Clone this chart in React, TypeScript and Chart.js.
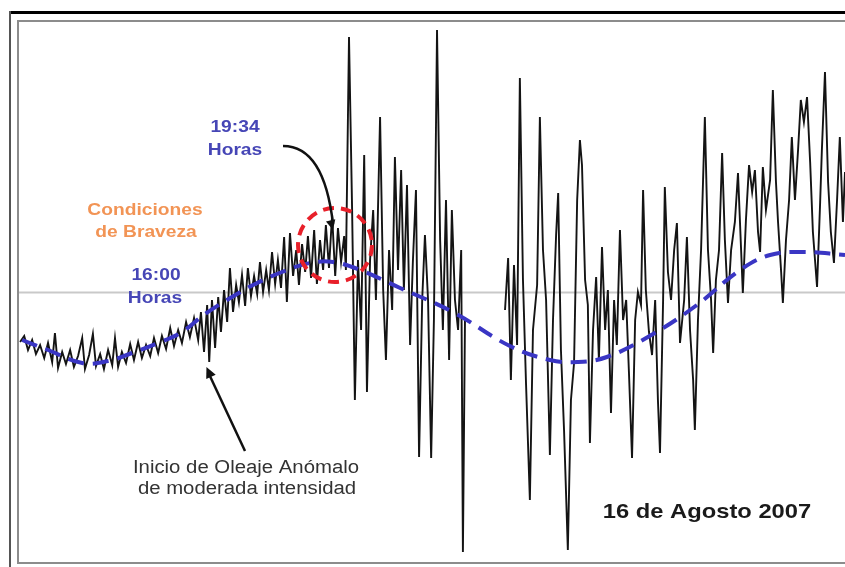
import React, { useEffect, useRef } from 'react';
import { Chart, registerables } from 'chart.js';

Chart.register(...registerables);

// Tide-gauge record, 16 August 2007 (time in decimal hours, level in cm)
const obsTimes = [
  10.50, 10.62, 10.73, 10.85, 10.96, 11.08, 11.20, 11.31, 11.43, 11.51, 11.60, 11.72, 11.83, 11.95,
  12.06, 12.18, 12.30, 12.38, 12.50, 12.61, 12.70, 12.82, 12.93, 13.05, 13.17, 13.25, 13.34, 13.45,
  13.57, 13.69, 13.80, 13.92, 14.03, 14.15, 14.27, 14.38, 14.50, 14.61, 14.73, 14.85, 14.96, 15.08,
  15.19, 15.31, 15.42, 15.54, 15.66, 15.74, 15.83, 15.92, 15.98, 16.06, 16.15, 16.24, 16.32, 16.41,
  16.50, 16.58, 16.67, 16.76, 16.84, 16.93, 17.02, 17.10, 17.19, 17.28, 17.37, 17.45, 17.54, 17.63,
  17.71, 17.80, 17.89, 17.97, 18.06, 18.15, 18.23, 18.32, 18.41, 18.50, 18.58, 18.67, 18.76, 18.84,
  18.93, 19.02, 19.10, 19.19, 19.28, 19.36, 19.45, 19.54, 19.63, 19.71, 19.80, 19.89, 19.94, 20.03,
  20.12, 20.20, 20.29, 20.38, 20.47, 20.55, 20.64, 20.73, 20.81, 20.93, 21.02, 21.10, 21.19, 21.28,
  21.36, 21.45, 21.54, 21.62, 21.71, 21.80, 21.88, 21.97, 22.06, 22.15, 22.23, 22.32, 22.41, 22.49,
  22.58, 22.67, 22.75, 22.84, 22.93, 23.01, 23.10, 23.19, 23.28, 23.33, 23.39, 23.90,
  24.55, 24.64, 24.72, 24.81, 24.90, 24.98, 25.07, 25.16, 25.27, 25.36, 25.48, 25.56, 25.65, 25.74,
  25.85, 25.94, 26.03, 26.09, 26.17, 26.26, 26.37, 26.46, 26.55, 26.64, 26.72, 26.78, 26.87, 26.95,
  27.01, 27.10, 27.19, 27.27, 27.36, 27.45, 27.53, 27.62, 27.71, 27.79, 27.88, 27.97, 28.06, 28.14,
  28.23, 28.32, 28.40, 28.49, 28.55, 28.63, 28.72, 28.81, 28.90, 28.98, 29.04, 29.13, 29.18, 29.27,
  29.36, 29.45, 29.53, 29.62, 29.74, 29.82, 29.91, 30.00, 30.05, 30.14, 30.23, 30.34, 30.43, 30.52,
  30.58, 30.66, 30.75, 30.84, 30.92, 31.01, 31.10, 31.21, 31.30, 31.39, 31.44, 31.53, 31.62, 31.71,
  31.79, 31.88, 31.94, 32.02, 32.11, 32.23, 32.31, 32.40, 32.46, 32.55, 32.60, 32.69, 32.78, 32.86,
  32.95, 33.04, 33.12, 33.21, 33.30, 33.39, 33.47, 33.59, 33.68, 33.73, 33.82, 33.91, 33.99, 34.08,
  34.17, 34.25, 34.34, 34.40,
];

const obsLevels = [
  -19.8, -17.4, -23.0, -19.0, -24.6, -21.0, -26.2, -20.2, -27.8, -16.2, -30.2, -23.8, -28.6, -23.0,
  -29.8, -25.4, -18.2, -30.6, -25.0, -16.6, -29.4, -24.6, -30.6, -23.0, -29.0, -18.2, -29.8, -23.8,
  -28.2, -20.6, -27.0, -19.8, -26.2, -21.0, -25.4, -18.2, -24.2, -17.4, -22.6, -14.2, -21.4, -15.0,
  -20.2, -11.8, -17.8, -10.2, -19.0, -7.8, -23.8, -5.0, -27.8, -3.0, -22.2, -1.8, -15.8, 1.0,
  -11.8, 9.8, -7.8, 3.0, -3.8, 7.0, -5.4, 9.8, -1.4, 6.6, -0.6, 12.2, 0.2, 9.0,
  1.0, 16.2, 3.4, 13.0, 1.8, 22.2, -3.8, 23.8, 6.6, 17.0, 3.0, 19.4, 8.2, 22.6,
  5.8, 25.0, 3.4, 21.0, 9.0, 27.0, 9.8, 31.0, 6.6, 25.8, 12.2, 22.6, 9.0, 102.2,
  33.0, -43.0, 13.0, -15.0, 55.0, -39.8, 13.0, 33.0, -3.0, 70.2, 1.0, -27.0, 17.0, -7.0,
  54.2, 9.0, 49.0, 1.0, 43.0, -21.0, 12.2, 41.0, -65.8, -3.0, 23.0, -3.0, -66.2, -11.0,
  105.0, 21.0, -15.0, 37.0, -27.0, 33.0, -3.0, -15.0, 17.0, -103.8, -11.0, null,
  -7.0, 13.8, -35.0, 11.0, -21.0, 85.8, 5.0, -37.0, -83.0, -15.0, 3.0, 70.2, 17.0, -3.0,
  -65.0, -11.0, 23.0, 39.8, -23.0, -55.0, -103.0, -43.0, -28.2, 37.0, 61.0, 51.0, 5.0, -5.0,
  -60.2, -15.0, 6.2, -27.0, 18.2, -15.0, 1.0, -48.2, -3.0, -21.0, 25.0, -11.0, -3.0, -31.8,
  -66.2, -11.0, 0.2, -5.0, 41.0, 1.0, -15.8, -25.0, -3.0, -43.0, -64.2, -3.0, 42.2, 8.2,
  -3.0, 17.0, 27.8, -20.2, -3.0, 22.2, -15.0, -35.0, -55.0, -11.0, 17.0, 70.2, 17.0, -3.0,
  -24.2, 5.0, 17.0, 55.8, 21.0, -4.2, 17.0, 28.2, 47.8, 17.0, -0.2, 29.0, 51.0, 40.2,
  49.0, 24.2, 16.2, 50.2, 33.0, 45.0, 81.0, 44.2, 28.2, 8.2, -4.2, 21.0, 37.0, 62.2,
  37.0, 57.0, 77.0, 68.2, 78.2, 52.2, 24.2, 2.2, 36.2, 57.0, 88.2, 44.2, 24.2, 11.8,
  37.0, 62.2, 28.2, 48.2,
];

// Astronomical tide (predicted)
const predTimes = [
  10.56, 11.31, 12.30, 13.05, 13.74, 14.50, 15.19, 15.86, 16.64, 17.31, 18.09, 18.90, 19.57,
  20.35, 21.51, 23.04, 24.69, 25.85, 26.64, 27.50, 28.84, 30.11, 31.36, 32.23, 33.18, 34.40,
];
const predLevels = [
  -19.0, -23.0, -28.2, -27.4, -24.2, -20.2, -15.8, -8.6, -1.8, 3.4, 8.2, 11.8, 12.2,
  9.0, 1.8, -7.8, -21.4, -27.0, -27.8, -25.8, -16.6, -5.0, 9.0, 15.0, 16.2, 15.0,
];

const meanLevel = 0;
const timeRange = [10.44, 34.4];
const levelRange = [-108.2, 108.6];
const eventTime = 19 + 34 / 60; // 19:34
const eventLevel = 19;
const onsetTime = 15.9;
const onsetLevel = -29;

const FONT = '"Liberation Sans", Arial, sans-serif';

function drawLabel(
  ctx: CanvasRenderingContext2D,
  text: string,
  x: number,
  y: number,
  font: string,
  color: string,
  sx = 1.13
) {
  ctx.save();
  ctx.translate(x, y);
  ctx.scale(sx, 1);
  ctx.font = font;
  ctx.fillStyle = color;
  ctx.textAlign = 'center';
  ctx.textBaseline = 'alphabetic';
  ctx.fillText(text, 0, 0);
  ctx.restore();
}

function arrowHead(ctx: CanvasRenderingContext2D, tx: number, ty: number, fx: number, fy: number, size: number) {
  const a = Math.atan2(ty - fy, tx - fx);
  ctx.beginPath();
  ctx.moveTo(tx, ty);
  ctx.lineTo(tx - size * Math.cos(a - 0.45), ty - size * Math.sin(a - 0.45));
  ctx.lineTo(tx - size * Math.cos(a + 0.45), ty - size * Math.sin(a + 0.45));
  ctx.closePath();
  ctx.fill();
}

const annotationsPlugin = {
  id: 'annotations',
  afterDatasetsDraw(chart: Chart) {
    const { ctx } = chart;
    const xs = chart.scales.x;
    const ys = chart.scales.y;

    // red dashed circle at 19:34
    const cx = xs.getPixelForValue(eventTime) + 2;
    const cy = ys.getPixelForValue(eventLevel);
    ctx.save();
    ctx.strokeStyle = '#e8202a';
    ctx.lineWidth = 4;
    ctx.setLineDash([11, 7]);
    ctx.beginPath();
    ctx.arc(cx, cy, 37, 0, Math.PI * 2);
    ctx.stroke();
    ctx.restore();

    // curved arrow from "19:34 Horas" to the circle
    ctx.save();
    ctx.strokeStyle = '#111';
    ctx.fillStyle = '#111';
    ctx.lineWidth = 2.5;
    const ex = cx - 2;
    const ey = cy - 15;
    ctx.beginPath();
    ctx.moveTo(283, 146);
    ctx.quadraticCurveTo(324, 146, ex, ey - 6);
    ctx.stroke();
    arrowHead(ctx, ex, ey, ex - 3, ey - 12, 11);

    // straight arrow to onset of anomalous waves
    const ox = xs.getPixelForValue(onsetTime);
    const oy = ys.getPixelForValue(onsetLevel) + 2;
    ctx.lineWidth = 2.5;
    ctx.beginPath();
    ctx.moveTo(245, 451);
    ctx.lineTo(ox + 3, oy + 8);
    ctx.stroke();
    arrowHead(ctx, ox, oy, 245, 451, 12);
    ctx.restore();

    const blue = '#4646b6';
    const orange = '#f29455';
    drawLabel(ctx, '19:34', 235, 132, `bold 17px ${FONT}`, blue);
    drawLabel(ctx, 'Horas', 235, 155, `bold 17px ${FONT}`, blue);
    drawLabel(ctx, 'Condiciones', 145, 215, `bold 17px ${FONT}`, orange);
    drawLabel(ctx, 'de Braveza', 146, 237, `bold 17px ${FONT}`, orange);
    drawLabel(ctx, '16:00', 156, 280, `bold 17px ${FONT}`, blue);
    drawLabel(ctx, 'Horas', 155, 303, `bold 17px ${FONT}`, blue);
    drawLabel(ctx, 'Inicio de Oleaje Anómalo', 246, 473, `18px ${FONT}`, '#333');
    drawLabel(ctx, 'de moderada intensidad', 247, 494, `18px ${FONT}`, '#333');
    drawLabel(ctx, '16 de Agosto 2007', 707, 518, `bold 21px ${FONT}`, '#1a1a1a');
  },
};

const framePlugin = {
  id: 'frame',
  afterDraw(chart: Chart) {
    const { ctx, chartArea } = chart;
    ctx.save();
    // outer frame
    ctx.fillStyle = '#000';
    ctx.fillRect(9, 11, chart.width - 9, 3);
    ctx.fillStyle = '#555';
    ctx.fillRect(9, 11, 2, chart.height - 11);
    // inner frame
    ctx.strokeStyle = '#8c8c8c';
    ctx.lineWidth = 2;
    ctx.beginPath();
    ctx.moveTo(chart.width, chartArea.top);
    ctx.lineTo(chartArea.left, chartArea.top);
    ctx.lineTo(chartArea.left, chartArea.bottom);
    ctx.lineTo(chart.width, chartArea.bottom);
    ctx.stroke();
    ctx.restore();
  },
};

export default function App() {
  const canvasRef = useRef<HTMLCanvasElement>(null);
  const chartRef = useRef<Chart | null>(null);

  useEffect(() => {
    if (!canvasRef.current) return;
    if (chartRef.current) chartRef.current.destroy();

    chartRef.current = new Chart(canvasRef.current, {
      type: 'line',
      data: {
        datasets: [
          {
            label: 'Marea astronómica',
            data: predTimes.map((t, i) => ({ x: t, y: predLevels[i] })),
            borderColor: '#3a36c4',
            borderWidth: 4,
            borderDash: [16, 9],
            pointRadius: 0,
            tension: 0.4,
            order: 0,
          },
          {
            label: 'Nivel del mar',
            data: obsTimes.map((t, i) => ({ x: t, y: obsLevels[i] })),
            borderColor: '#141414',
            borderWidth: 1.9,
            pointRadius: 0,
            tension: 0,
            spanGaps: false,
            order: 1,
          },
          {
            label: 'Nivel medio',
            data: timeRange.map((t) => ({ x: t, y: meanLevel })),
            borderColor: '#c9c9c9',
            borderWidth: 2,
            pointRadius: 0,
            order: 2,
          },
        ],
      },
      options: {
        animation: false,
        responsive: true,
        maintainAspectRatio: false,
        layout: { padding: { left: 18, top: 21, right: 0, bottom: 4 } },
        plugins: {
          legend: { display: false },
          tooltip: { enabled: false },
        },
        scales: {
          x: { type: 'linear', display: false, min: timeRange[0], max: timeRange[1] },
          y: { type: 'linear', display: false, min: levelRange[0], max: levelRange[1] },
        },
      },
      plugins: [annotationsPlugin, framePlugin],
    });

    return () => {
      if (chartRef.current) {
        chartRef.current.destroy();
        chartRef.current = null;
      }
    };
  }, []);

  return (
    <div style={{ position: 'fixed', left: 0, top: 0, width: 845, height: 567, background: '#fff' }}>
      <canvas ref={canvasRef} style={{ display: 'block' }} />
    </div>
  );
}
